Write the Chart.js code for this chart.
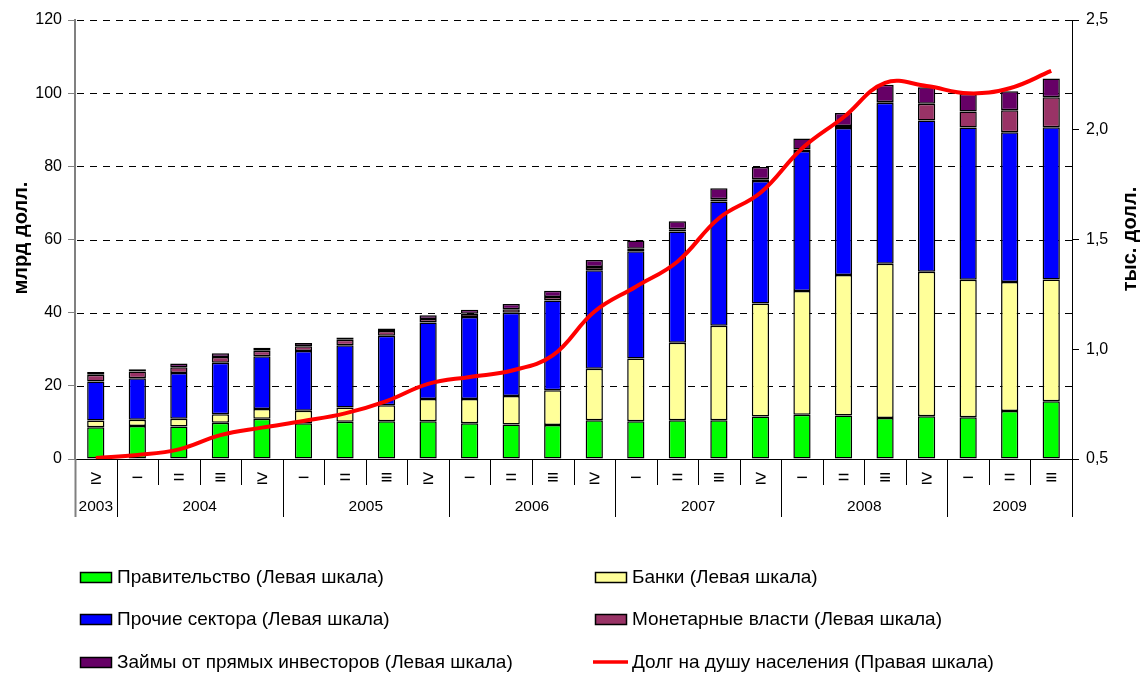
<!DOCTYPE html>
<html>
<head>
<meta charset="utf-8">
<script src="https://cdn.jsdelivr.net/npm/chart.js@4.4.1/dist/chart.umd.min.js"></script>
<style>
html,body{margin:0;padding:0;background:#fff;}
#wrap{width:1144px;height:675px;position:relative;}
</style>
</head>
<body>
<div id="wrap"><canvas id="c" width="1144" height="675"></canvas></div>
<script>
// ---- data ----
const quarters = ['≥','−','=','≡','≥','−','=','≡','≥','−','=','≡','≥','−','=','≡','≥','−','=','≡','≥','−','=','≡'];
const yearLabels = ['2003','2004','2005','2006','2007','2008','2009'];
const yearCounts = [1,4,4,4,4,4,3];
const government = [8.7,9.0,8.9,9.9,11.0,9.8,10.2,10.3,10.3,9.8,9.4,9.3,10.6,10.3,10.6,10.6,11.6,12.1,11.9,11.2,11.7,11.4,13.1,15.8];
const banks      = [1.8,1.7,2.1,2.3,2.7,3.4,3.9,4.4,6.1,6.6,7.8,9.5,14.1,17.2,21.2,25.8,30.9,33.8,38.4,42.2,39.5,37.6,35.3,33.3];
const otherSectors = [10.7,11.4,12.5,14.1,14.4,16.3,17.0,19.0,20.9,22.4,22.8,24.5,26.9,29.3,30.4,34.0,33.5,38.3,40.2,44.0,41.3,41.6,40.9,41.6];
const monetary   = [1.8,1.8,1.6,1.6,1.5,1.3,1.5,1.3,1.0,0.9,0.9,1.0,0.9,0.7,0.6,0.6,0.5,0.4,0.5,0.2,4.6,4.4,6.0,8.2];
const directLoans = [0.8,0.6,1.0,1.0,0.8,0.9,0.6,0.7,1.0,1.1,1.5,1.7,1.9,2.2,2.2,3.0,3.3,3.0,3.6,4.7,4.5,4.8,5.2,5.1];
const perCapita  = [0.505,0.518,0.544,0.609,0.643,0.673,0.708,0.764,0.842,0.874,0.902,0.972,1.171,1.285,1.399,1.597,1.713,1.915,2.057,2.214,2.199,2.166,2.189,2.268];
const leftTickLabels = ['0','20','40','60','80','100','120'];
const rightTickLabels = ['0,5','1,0','1,5','2,0','2,5'];
const seriesNames = [
  'Правительство (Левая шкала)',
  'Банки (Левая шкала)',
  'Прочие сектора (Левая шкала)',
  'Монетарные власти (Левая шкала)',
  'Займы от прямых инвесторов (Левая шкала)',
  'Долг на душу населения (Правая шкала)'
];
const seriesColors = ['#00ff00','#ffff99','#0000ff','#993366','#660066','#ff0000'];
const leftTitle = 'млрд долл.';
const rightTitle = 'тыс. долл.';

const FONT = "'Liberation Sans', Arial, sans-serif";

function barDs(i, data){
  return {
    type:'bar', label:seriesNames[i], data:data, backgroundColor:seriesColors[i],
    borderColor:'#000', borderWidth:1.5, borderSkipped:false,
    barPercentage:0.415, categoryPercentage:1, yAxisID:'y', order:1, stack:'s'
  };
}

const decor = {
  id:'decor',
  beforeDatasetsDraw(chart){
    const c = chart.ctx, a = chart.chartArea, y = chart.scales.y;
    c.save();
    c.strokeStyle = '#000'; c.lineWidth = 1; c.setLineDash([7,6]);
    for (let v = 20; v <= 120; v += 20){
      const py = Math.round(y.getPixelForValue(v)) + 0.5;
      c.beginPath(); c.moveTo(a.left + 2, py); c.lineTo(a.right, py); c.stroke();
    }
    c.restore();
  },
  afterDraw(chart){
    const c = chart.ctx, a = chart.chartArea;
    const n = quarters.length, w = (a.right - a.left) / n;
    c.save();
    // separators
    const yearStarts = new Set(); let acc = 0;
    yearCounts.forEach(k => { yearStarts.add(acc); acc += k; });
    yearStarts.add(n);
    for (let i = 0; i <= n; i++){
      const px = Math.round(a.left + i * w) + 0.5;
      const long = yearStarts.has(i);
      c.strokeStyle = (i === 0) ? '#808080' : '#000';
      c.lineWidth = (i === 0) ? 2 : 1;
      c.beginPath(); c.moveTo(px, a.bottom); c.lineTo(px, long ? a.bottom + 58 : a.bottom + 26); c.stroke();
    }
    // quarter labels
    c.fillStyle = '#000'; c.textAlign = 'center'; c.textBaseline = 'middle';
    c.font = '20px ' + FONT;
    for (let i = 0; i < n; i++){
      c.fillText(quarters[i], a.left + (i + 0.5) * w, a.bottom + 19);
    }
    // year labels
    c.font = '15.5px ' + FONT;
    acc = 0;
    yearCounts.forEach((k, j) => {
      c.fillText(yearLabels[j], a.left + (acc + k / 2) * w, a.bottom + 48);
      acc += k;
    });
    // axis titles
    c.font = 'bold 20px ' + FONT;
    c.save(); c.translate(21, 238); c.rotate(-Math.PI/2); c.fillText(leftTitle, 0, 0); c.restore();
    c.save(); c.translate(1130, 239); c.rotate(-Math.PI/2); c.fillText(rightTitle, 0, 0); c.restore();
    // legend
    c.font = '19px ' + FONT; c.textAlign = 'left';
    const pos = [[80,578],[595,578],[80,620],[595,620],[80,663],[595,663]];
    pos.forEach(([lx, ly], si) => {
      if (si === 5){
        c.strokeStyle = seriesColors[5]; c.lineWidth = 3.5;
        c.beginPath(); c.moveTo(lx - 2, ly - 1); c.lineTo(lx + 33, ly - 1); c.stroke();
      } else {
        c.fillStyle = seriesColors[si];
        c.fillRect(lx, ly - 6, 32, 11);
        c.strokeStyle = '#000'; c.lineWidth = 1.5;
        c.strokeRect(lx + 0.5, ly - 5.5, 31, 10);
      }
      c.fillStyle = '#000';
      c.fillText(seriesNames[si], lx + 37, ly);
    });
    c.restore();
  }
};

new Chart(document.getElementById('c'), {
  data: {
    labels: quarters,
    datasets: [
      barDs(0, government), barDs(1, banks), barDs(2, otherSectors), barDs(3, monetary), barDs(4, directLoans),
      { type:'line', label:seriesNames[5], data:perCapita, borderColor:seriesColors[5], borderWidth:4,
        pointRadius:0, tension:0.4, fill:false, yAxisID:'y1', order:0 }
    ]
  },
  options: {
    responsive:false, animation:false, devicePixelRatio:1,
    layout:{ padding:{ top:20, left:0, right:0, bottom:0 } },
    plugins:{ legend:{display:false}, tooltip:{enabled:false} },
    scales:{
      x:{ stacked:true, ticks:{display:false}, grid:{display:false},
          border:{display:true, color:'#000', width:1},
          afterFit(s){ s.height = 216; } },
      y:{ stacked:true, position:'left', min:0, max:120,
          ticks:{ stepSize:20, padding:6, color:'#000', font:{family:FONT, size:16},
                  callback:(v,i)=>leftTickLabels[i] },
          grid:{ drawOnChartArea:false, drawTicks:true, tickLength:7, color:'#808080' },
          border:{ display:true, color:'#808080', width:2 },
          afterFit(s){ s.width = 75; } },
      y1:{ position:'right', min:0.5, max:2.5,
          ticks:{ stepSize:0.5, padding:7, color:'#000', font:{family:FONT, size:16},
                  callback:(v,i)=>rightTickLabels[i] },
          grid:{ drawOnChartArea:false, drawTicks:true, tickLength:7, color:'#000' },
          border:{ display:true, color:'#000', width:1 },
          afterFit(s){ s.width = 72; } }
    }
  },
  plugins:[decor]
});
</script>
</body>
</html>
